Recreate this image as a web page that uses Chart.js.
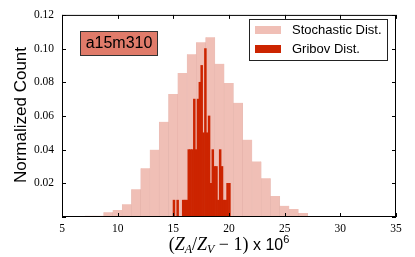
<!DOCTYPE html>
<html><head><meta charset="utf-8">
<script src="https://cdn.jsdelivr.net/npm/chart.js@4/dist/chart.umd.min.js"></script>
<style>html,body{margin:0;padding:0;background:#fff;}</style>
</head><body>
<canvas id="c" width="415" height="257"></canvas>
<script>
// ---- data ----
const stochStart = 7.07;
const stochWidth = 0.833;
const stochValues = [0.0008, 0.0008, 0.0028, 0.0041, 0.0075, 0.0165, 0.029, 0.040, 0.0565, 0.073,
  0.0855, 0.0967, 0.1037, 0.1067, 0.091, 0.0796, 0.0678, 0.0459, 0.033, 0.023,
  0.0124, 0.0067, 0.0047, 0.0024, 0.0006, 0.0006];
const gribovStart = 14.974;
const gribovWidth = 0.166;
const gribovValues = [0.01, 0, 0.01, 0, 0, 0.01, 0.01, 0.01, 0.04, 0.04,
  0.04, 0.07, 0.04, 0.07, 0.08, 0.09, 0.05, 0.10, 0.05, 0.06,
  0.02, 0.04, 0.03, 0.03, 0.01, 0.04, 0.03, 0.01, 0.01, 0.02, 0.02];
const xTickValues = [5, 10, 15, 20, 25, 30, 35];
const yTickValues = [0, 0.02, 0.04, 0.06, 0.08, 0.10, 0.12];
const seriesLabels = ['Stochastic Dist.', 'Gribov Dist.'];
const ensembleLabel = 'a15m310';

const stochColor = '#f0bfb6';
const gribovColor = '#cc2400';

const toPoints = (start, w, vals) => vals.map((v, i) => ({x: start + w * (i + 0.5), y: v}));

const SERIF = '"Liberation Serif", "DejaVu Serif", serif';
const SANS = '"Liberation Sans", Arial, sans-serif';

const decor = {
  id: 'decor',
  afterDraw(chart) {
    const ctx = chart.ctx;
    const a = chart.chartArea;
    const xs = chart.scales.x, ys = chart.scales.y;
    ctx.save();
    // frame
    ctx.strokeStyle = '#000';
    ctx.lineWidth = 1;
    ctx.strokeRect(a.left + 0.5, a.top + 0.5, a.right - a.left - 1, a.bottom - a.top - 1);
    // inward ticks
    ctx.beginPath();
    xTickValues.forEach(v => {
      const p = Math.round(xs.getPixelForValue(v)) + 0.5;
      ctx.moveTo(p, a.bottom); ctx.lineTo(p, a.bottom - 4);
      ctx.moveTo(p, a.top); ctx.lineTo(p, a.top + 4);
    });
    yTickValues.forEach(v => {
      const p = Math.round(ys.getPixelForValue(v)) + 0.5;
      ctx.moveTo(a.left, p); ctx.lineTo(a.left + 4, p);
      ctx.moveTo(a.right, p); ctx.lineTo(a.right - 4, p);
    });
    ctx.stroke();

    // ensemble label box
    ctx.fillStyle = '#e07b6a';
    ctx.fillRect(80, 31, 78, 25);
    ctx.strokeStyle = '#333';
    ctx.strokeRect(80.5, 31.5, 77, 24);
    ctx.fillStyle = '#000';
    ctx.font = '16px ' + SANS;
    ctx.textAlign = 'center';
    ctx.textBaseline = 'middle';
    ctx.fillText(ensembleLabel, 119, 44);

    // legend
    ctx.fillStyle = '#fff';
    ctx.fillRect(249, 19, 139, 42);
    ctx.strokeStyle = '#222';
    ctx.strokeRect(249.5, 19.5, 138, 41);
    const cols = [stochColor, gribovColor];
    ctx.font = '13px ' + SANS;
    ctx.textAlign = 'left';
    seriesLabels.forEach((t, i) => {
      const yy = 30 + i * 19;
      ctx.fillStyle = cols[i];
      ctx.fillRect(255, yy - 4, 26, 8);
      ctx.fillStyle = '#000';
      ctx.fillText(t, 292, yy);
    });

    // y title
    ctx.save();
    ctx.translate(21, 115);
    ctx.rotate(-Math.PI / 2);
    ctx.font = '17px ' + SANS;
    ctx.textAlign = 'center';
    ctx.textBaseline = 'middle';
    ctx.fillText('Normalized Count', 0, 0);
    ctx.restore();

    // x title composed
    const parts = [
      {t: '(', f: '18px ' + SERIF, dy: 0},
      {t: 'Z', f: 'italic 18px ' + SERIF, dy: 0},
      {t: 'A', f: 'italic 12px ' + SERIF, dy: 3},
      {t: '/', f: '18px ' + SERIF, dy: 0},
      {t: 'Z', f: 'italic 18px ' + SERIF, dy: 0},
      {t: 'V', f: 'italic 12px ' + SERIF, dy: 3},
      {t: ' \u2212 ', f: '18px ' + SERIF, dy: 0},
      {t: '1)', f: '18px ' + SERIF, dy: 0},
      {t: ' x 10', f: '16px ' + SANS, dy: 0},
      {t: '6', f: '11px ' + SANS, dy: -7}
    ];
    ctx.textAlign = 'left';
    ctx.textBaseline = 'alphabetic';
    let total = 0;
    parts.forEach(p => { ctx.font = p.f; p.w = ctx.measureText(p.t).width; total += p.w; });
    let x0 = (a.left + a.right) / 2 - total / 2;
    parts.forEach(p => { ctx.font = p.f; ctx.fillText(p.t, x0, 250 + p.dy); x0 += p.w; });
    ctx.restore();
  }
};

new Chart(document.getElementById('c'), {
  type: 'bar',
  data: {
    datasets: [
      {
        label: seriesLabels[0],
        data: toPoints(stochStart, stochWidth, stochValues),
        xAxisID: 'x', yAxisID: 'y',
        backgroundColor: stochColor,
        borderColor: 'rgba(220,160,150,0.7)',
        borderWidth: {left: 0.5, right: 0.5, top: 0, bottom: 0},
        borderSkipped: false,
        barPercentage: 1, categoryPercentage: 1, grouped: false,
        order: 2
      },
      {
        label: seriesLabels[1],
        data: toPoints(gribovStart, gribovWidth, gribovValues),
        xAxisID: 'x2', yAxisID: 'y',
        backgroundColor: gribovColor,
        borderWidth: 0,
        barPercentage: 1, categoryPercentage: 1, grouped: false,
        order: 1
      }
    ]
  },
  options: {
    responsive: false,
    animation: false,
    devicePixelRatio: 1,
    layout: {padding: {top: 13, right: 19, left: 0, bottom: 0}},
    plugins: {legend: {display: false}, tooltip: {enabled: false}},
    scales: {
      x: {
        type: 'linear', min: 5, max: 35, offset: false,
        afterBuildTicks: s => { s.ticks = xTickValues.map(v => ({value: v})); },
        afterFit: s => { s.height = 40; },
        grid: {display: false, drawTicks: false},
        border: {display: false},
        ticks: {font: {family: SERIF, size: 11.5}, color: '#000', padding: 5, maxRotation: 0, autoSkip: false,
          callback: v => String(v)}
      },
      x2: {
        type: 'linear', min: 5, max: 35, offset: false, display: false,
        grid: {display: false}
      },
      y: {
        min: 0, max: 0.12,
        afterBuildTicks: s => { s.ticks = yTickValues.map(v => ({value: v})); },
        afterFit: s => { s.width = 62; },
        grid: {display: false, drawTicks: false},
        border: {display: false},
        ticks: {font: {family: SERIF, size: 11.5}, color: '#000', padding: 8, autoSkip: false,
          callback: v => v === 0 ? '' : v.toFixed(2)}
      }
    }
  },
  plugins: [decor]
});
</script>
</body></html>
